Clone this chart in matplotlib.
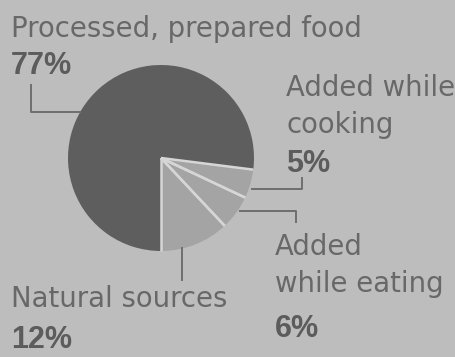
import numpy as np
import matplotlib
matplotlib.use("Agg")
import matplotlib.pyplot as plt

# ---- data ----
categories = ["Processed, prepared food", "Added while\ncooking", "Added\nwhile eating", "Natural sources"]
values = [77, 5, 6, 12]
pct_labels = ["77%", "5%", "6%", "12%"]

# ---- style ----
BG = "#bdbdbd"
DARK = "#5e5e5e"
LIGHT = "#a4a4a4"
SEP = "#d6d6d6"
TXT = "#686868"
PCT = "#5c5c5c"
LINE = "#6e6e6e"

W, H = 455, 357
fig = plt.figure(figsize=(W / 100, H / 100), dpi=100, facecolor=BG)
ax = fig.add_axes([0, 0, 1, 1])
ax.set_facecolor(BG)

def Y(y):  # pixel-from-top -> data y
    return H - y

cx, cy, r = 161, Y(158), 93
wedges, _ = ax.pie(values, colors=[DARK, LIGHT, LIGHT, LIGHT], startangle=270,
                   counterclock=False, radius=r, center=(cx, cy),
                   wedgeprops=dict(linewidth=0))
# light separators between wedges
for w in wedges[1:]:
    for th in (w.theta1, w.theta2):
        a = np.deg2rad(th)
        ax.plot([cx, cx + r * np.cos(a)], [cy, cy + r * np.sin(a)],
                color=SEP, lw=1.8, solid_capstyle="butt", zorder=3)

ax.set_xlim(0, W)
ax.set_ylim(0, H)
ax.set_aspect("equal")
ax.axis("off")

fs_txt = 19.8
fs_pct = 22.0
reg = dict(family="DejaVu Sans", fontsize=fs_txt, color=TXT, va="baseline", ha="left")
bold = dict(family="Liberation Sans", fontweight="bold", fontsize=fs_pct, color=PCT,
            va="baseline", ha="left")

# Processed
ax.text(11, Y(37), categories[0], **reg)
ax.text(11, Y(74), pct_labels[0], **bold)
# Added while cooking
ax.text(286, Y(96), "Added while", **reg)
ax.text(286, Y(133), "cooking", **reg)
ax.text(286, Y(172), pct_labels[1], **bold)
# Added while eating
ax.text(275, Y(255), "Added", **reg)
ax.text(275, Y(292), "while eating", **reg)
ax.text(275, Y(337), pct_labels[2], **bold)
# Natural sources
ax.text(11, Y(307), categories[3], **reg)
ax.text(11, Y(348), pct_labels[3], **bold)

lk = dict(color=LINE, lw=1.4, zorder=1)
ax.plot([31, 31, 80], [Y(85), Y(112), Y(112)], **lk)
ax.plot([252, 302, 302], [Y(189), Y(189), Y(178)], **lk)
ax.plot([240, 296, 296], [Y(211), Y(211), Y(222)], **lk)
ax.plot([182, 182], [Y(248), Y(280)], **lk)

fig.savefig("out.png", dpi=100, facecolor=BG)
